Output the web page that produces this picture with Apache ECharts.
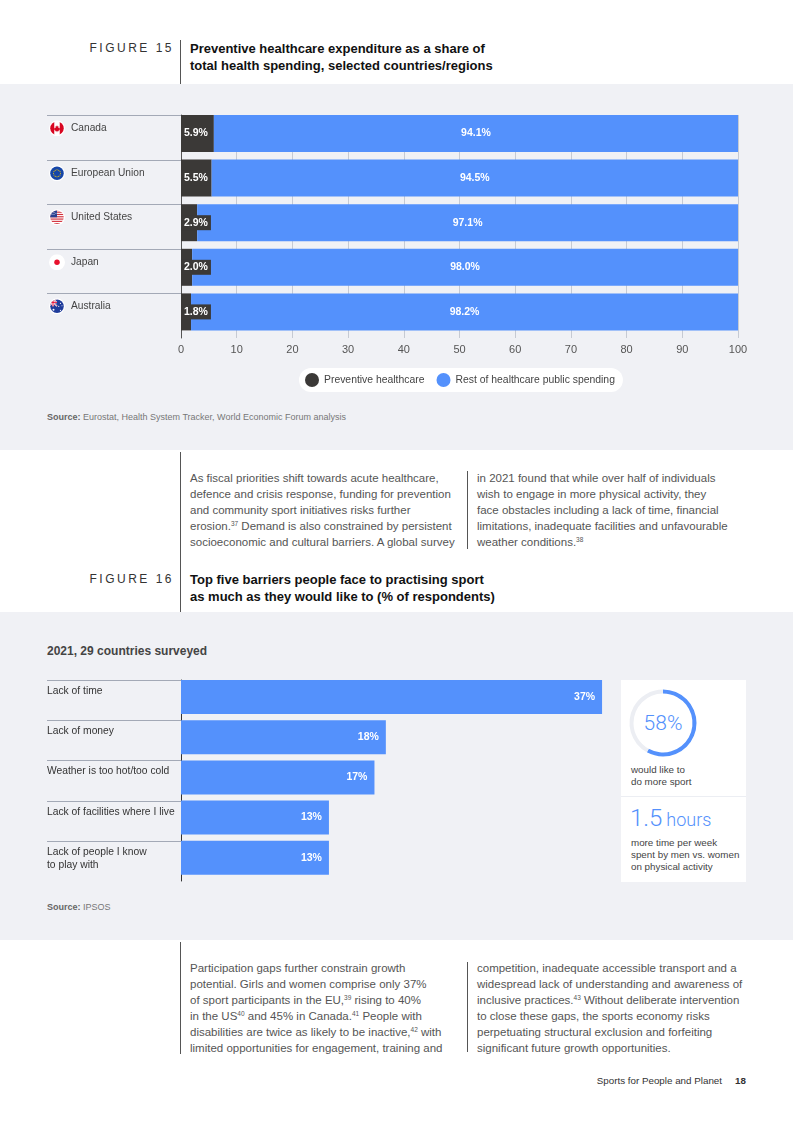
<!DOCTYPE html>
<html>
<head>
<meta charset="utf-8">
<script src="https://cdn.jsdelivr.net/npm/echarts@6/dist/echarts.min.js"></script>
<style>
html, body { margin: 0; padding: 0; width: 793px; height: 1121px; overflow: hidden; background: #fff;
  font-family: "Liberation Sans", Arial, sans-serif; }
.band { position: absolute; left: 0; width: 793px; background: #f0f1f5; }
.vline { position: absolute; width: 1px; background: #555; }
.fig { position: absolute; left: 40px; width: 134px; text-align: right; font-size: 12px; letter-spacing: 2.5px;
  color: #333; line-height: 17px; }
.ttl { position: absolute; left: 190px; font-size: 13px; font-weight: bold; color: #111; line-height: 17px; white-space: nowrap; }
.para { position: absolute; font-size: 11.5px; line-height: 16px; color: #555; white-space: nowrap; }
.src { position: absolute; left: 47px; font-size: 9px; line-height: 12px; color: #777; white-space: nowrap; }
.src b { color: #666; }
sup { font-size: 6.5px; vertical-align: baseline; position: relative; top: -4.5px; line-height: 0; }
.panel { position: absolute; left: 621px; top: 680px; width: 125px; height: 202px; background: #fff; }
.ptxt { position: absolute; left: 10px; font-size: 9.8px; line-height: 12.5px; color: #444; white-space: nowrap; }
#chart { position: absolute; left: 0; top: 0; width: 793px; height: 1121px; }
</style>
</head>
<body>
<div class="band" style="top:84px;height:366px"></div>
<div class="band" style="top:612px;height:328px"></div>

<div class="fig" style="top:39.5px">FIGURE 15</div>
<div class="vline" style="left:180px;top:40px;height:44px"></div>
<div class="ttl" style="top:39.5px">Preventive healthcare expenditure as a share of<br>total health spending, selected countries/regions</div>
<div class="src" style="top:411px"><b>Source:</b> Eurostat, Health System Tracker, World Economic Forum analysis</div>

<div class="vline" style="left:180px;top:452px;height:160px"></div>
<div class="vline" style="left:467px;top:471px;height:78px"></div>
<div class="para" style="left:190px;top:470px">As fiscal priorities shift towards acute healthcare,<br>defence and crisis response, funding for prevention<br>and community sport initiatives risks further<br>erosion.<sup>37</sup> Demand is also constrained by persistent<br>socioeconomic and cultural barriers. A global survey</div>
<div class="para" style="left:477px;top:470px">in 2021 found that while over half of individuals<br>wish to engage in more physical activity, they<br>face obstacles including a lack of time, financial<br>limitations, inadequate facilities and unfavourable<br>weather conditions.<sup>38</sup></div>

<div class="fig" style="top:570.5px">FIGURE 16</div>
<div class="ttl" style="top:570.5px">Top five barriers people face to practising sport<br>as much as they would like to (% of respondents)</div>

<div style="position:absolute;left:47px;top:642.5px;font-size:12px;line-height:16px;font-weight:bold;color:#444;white-space:nowrap">2021, 29 countries surveyed</div>
<div class="panel">
  <div id="gaugeText" style="position:absolute;left:0;top:31px;width:84px;text-align:center;font-family:Roboto,'Liberation Sans',sans-serif;font-weight:300;font-size:21px;line-height:24px;color:#5491fc"></div>
  <div class="ptxt" style="top:83.5px">would like to<br>do more sport</div>
  <div style="position:absolute;left:0;top:116px;width:125px;height:1px;background:#eceef3"></div>
  <div id="hoursText" style="position:absolute;left:9px;top:124px;font-family:Roboto,'Liberation Sans',sans-serif;font-weight:300;color:#5491fc;white-space:nowrap;line-height:28px"></div>
  <div class="ptxt" style="top:156.5px;line-height:12px">more time per week<br>spent by men vs. women<br>on physical activity</div>
</div>
<div class="src" style="top:901px"><b>Source:</b> IPSOS</div>

<div class="vline" style="left:180px;top:942px;height:112px"></div>
<div class="vline" style="left:467px;top:962px;height:90px"></div>
<div class="para" style="left:190px;top:960px">Participation gaps further constrain growth<br>potential. Girls and women comprise only 37%<br>of sport participants in the EU,<sup>39</sup> rising to 40%<br>in the US<sup>40</sup> and 45% in Canada.<sup>41</sup> People with<br>disabilities are twice as likely to be inactive,<sup>42</sup> with<br>limited opportunities for engagement, training and</div>
<div class="para" style="left:477px;top:960px">competition, inadequate accessible transport and a<br>widespread lack of understanding and awareness of<br>inclusive practices.<sup>43</sup> Without deliberate intervention<br>to close these gaps, the sports economy risks<br>perpetuating structural exclusion and forfeiting<br>significant future growth opportunities.</div>

<div style="position:absolute;left:500px;width:222px;top:1075px;text-align:right;font-size:9.8px;line-height:12px;color:#333">Sports for People and Planet</div>
<div style="position:absolute;left:735px;top:1075px;font-size:9.8px;line-height:12px;font-weight:bold;color:#333">18</div>

<div id="chart"></div>

<script>
// figure 15
var countries = ['Canada', 'European Union', 'United States', 'Japan', 'Australia'];
var preventive = [5.9, 5.5, 2.9, 2.0, 1.8];
var restOfSpending = [94.1, 94.5, 97.1, 98.0, 98.2];
var seriesNames = ['Preventive healthcare', 'Rest of healthcare public spending'];

// figure 16
var barriers = ['Lack of time', 'Lack of money', 'Weather is too hot/too cold',
  'Lack of facilities where I live', 'Lack of people I know\nto play with'];
var barrierShares = [37, 18, 17, 13, 13];
var wantMoreSport = 58;
var extraHours = 1.5;

var FONT = '"Liberation Sans", Arial, sans-serif';
var BLUE = '#5491fc';
var DARK = '#3b3937';

document.getElementById('gaugeText').textContent = wantMoreSport + '%';
document.getElementById('hoursText').innerHTML =
  '<span style="font-size:24px">' + extraHours + '</span> <span style="font-size:18px">hours</span>';

// round flag icons
function flagIcon(inner) {
  var svg = "<svg xmlns='http://www.w3.org/2000/svg' width='32' height='32' viewBox='0 0 32 32'>" +
    "<defs><clipPath id='k'><circle cx='16' cy='16' r='13.5'/></clipPath></defs>" +
    "<circle cx='16' cy='16' r='16' fill='#ffffff'/>" +
    "<g clip-path='url(#k)'>" + inner + "</g></svg>";
  return 'data:image/svg+xml;charset=utf-8,' + encodeURIComponent(svg);
}
var euStars = '';
for (var s = 0; s < 12; s++) {
  var a = s * Math.PI / 6;
  euStars += "<circle cx='" + (16 + 7 * Math.cos(a)).toFixed(2) + "' cy='" + (16 + 7 * Math.sin(a)).toFixed(2) + "' r='1.1' fill='#ffcc00'/>";
}
var usStripes = '';
for (var r = 0; r < 7; r++) {
  usStripes += "<rect x='0' y='" + (r * 4.6) + "' width='32' height='2.3' fill='#d22f3b'/>";
}
var flags = [
  flagIcon("<rect width='32' height='32' fill='#fff'/><rect width='10.5' height='32' fill='#d80621'/><rect x='21.5' width='10.5' height='32' fill='#d80621'/>" +
    "<path d='M16 10 L17.3 12.6 L19 12 L18.4 15.6 L20.2 14.6 L20.6 16 L22 15.8 L21.3 18.2 L22 18.8 L18.9 21 L19.2 22 L16.4 21.7 L16.4 23.8 L15.6 23.8 L15.6 21.7 L12.8 22 L13.1 21 L10 18.8 L10.7 18.2 L10 15.8 L11.4 16 L11.8 14.6 L13.6 15.6 L13 12 L14.7 12.6 Z' fill='#d80621'/>"),
  flagIcon("<rect width='32' height='32' fill='#1646a8'/>" + euStars),
  flagIcon("<rect width='32' height='32' fill='#fff'/>" + usStripes +
    "<rect width='16' height='16' fill='#2a3f8f'/><circle cx='6' cy='6' r='1' fill='#fff'/><circle cx='10' cy='6' r='1' fill='#fff'/><circle cx='6' cy='10' r='1' fill='#fff'/><circle cx='10' cy='10' r='1' fill='#fff'/><circle cx='14' cy='8' r='1' fill='#fff'/>"),
  flagIcon("<rect width='32' height='32' fill='#fff'/><circle cx='16' cy='16' r='5.5' fill='#e8112d'/>"),
  flagIcon("<rect width='32' height='32' fill='#1f3c9b'/>" +
    "<path d='M0 0 L16 16 M16 0 L0 16' stroke='#fff' stroke-width='3'/><path d='M0 0 L16 16 M16 0 L0 16' stroke='#e4002b' stroke-width='1'/>" +
    "<path d='M8 0 V16 M0 8 H16' stroke='#fff' stroke-width='4'/><path d='M8 0 V16 M0 8 H16' stroke='#e4002b' stroke-width='2'/>" +
    "<circle cx='9' cy='23' r='2' fill='#fff'/><circle cx='23' cy='10' r='1.2' fill='#fff'/><circle cx='19.5' cy='16' r='1.2' fill='#fff'/><circle cx='26' cy='15' r='1' fill='#fff'/><circle cx='23' cy='24' r='1.3' fill='#fff'/>")
];

// row separators + labels to the left of the category axis
function countryRows(params, api) {
  var i = api.value(1);
  var centre = api.coord([0, i]);
  var band = api.size([0, 1])[1];
  var top = Math.round(centre[1] - band / 2) + 0.5;
  var axisX = params.coordSys.x;
  return {
    type: 'group',
    children: [
      { type: 'line', shape: { x1: 47, y1: top, x2: axisX, y2: top }, style: { stroke: '#a3a9b6', lineWidth: 1 } },
      { type: 'image', style: { image: flags[i], x: 49, y: top + 4.8, width: 16, height: 16 } },
      { type: 'text', style: { text: countries[i], x: 71, y: top + 13, verticalAlign: 'middle',
          fill: '#444', fontSize: 10.2, fontFamily: FONT } }
    ]
  };
}
function barrierRows(params, api) {
  var i = api.value(1);
  var centre = api.coord([0, i]);
  var band = api.size([0, 1])[1];
  var top = Math.round(centre[1] - band / 2) + 0.5;
  var axisX = params.coordSys.x;
  return {
    type: 'group',
    children: [
      { type: 'line', shape: { x1: 47, y1: top, x2: axisX, y2: top }, style: { stroke: '#a3a9b6', lineWidth: 1 } },
      { type: 'text', style: { text: barriers[i], x: 47, y: top + 4, verticalAlign: 'top', lineHeight: 13,
          fill: '#333', fontSize: 10.3, fontFamily: FONT } }
    ]
  };
}

var chart = echarts.init(document.getElementById('chart'), null, { renderer: 'canvas' });

var option = {
  animation: false,
  textStyle: { fontFamily: FONT },
  grid: [
    { left: 181, top: 115, width: 557, height: 223 },
    { left: 181, top: 680, width: 455.2, height: 201 }
  ],
  xAxis: [
    { gridIndex: 0, type: 'value', min: 0, max: 100, interval: 10,
      axisLine: { show: false }, axisTick: { show: false },
      splitLine: { lineStyle: { color: '#c6cad3' } },
      axisLabel: { color: '#555', fontSize: 11, margin: 6 } },
    { gridIndex: 1, type: 'value', min: 0, max: 40, show: false }
  ],
  yAxis: [
    { gridIndex: 0, type: 'category', data: countries, inverse: true,
      axisLine: { lineStyle: { color: '#555' } }, axisTick: { show: false }, axisLabel: { show: false } },
    { gridIndex: 1, type: 'category', data: barriers, inverse: true,
      axisLine: { lineStyle: { color: '#333' } }, axisTick: { show: false }, axisLabel: { show: false } }
  ],
  legend: {
    data: seriesNames,
    left: 299, top: 368,
    icon: 'circle', itemWidth: 14, itemHeight: 14, itemGap: 12,
    padding: [5, 8, 5, 6],
    backgroundColor: '#fff', borderRadius: 12,
    textStyle: { color: '#444', fontSize: 10.4 },
    selectedMode: false
  },
  series: [
    { name: seriesNames[0], type: 'bar', xAxisIndex: 0, yAxisIndex: 0, stack: 'share',
      data: preventive, barWidth: 37, barGap: '0%', itemStyle: { color: DARK },
      label: { show: true, position: 'insideLeft', distance: 0, color: '#fff', fontWeight: 'bold', fontSize: 10.5,
        backgroundColor: DARK, padding: [2, 3, 2, 3],
        formatter: function (p) { return p.value.toFixed(1) + '%'; } } },
    { name: seriesNames[1], type: 'bar', xAxisIndex: 0, yAxisIndex: 0, stack: 'share',
      data: restOfSpending, barWidth: 37, barGap: '0%', itemStyle: { color: BLUE },
      label: { show: true, position: 'inside', color: '#fff', fontWeight: 'bold', fontSize: 10.5,
        formatter: function (p) { return p.value.toFixed(1) + '%'; } } },
    { type: 'bar', xAxisIndex: 0, yAxisIndex: 0, stack: 'pad', silent: true,
      data: countries.map(function () { return 0; }), barWidth: 7.6, barGap: '0%',
      itemStyle: { color: 'rgba(0,0,0,0)' } },
    { type: 'custom', xAxisIndex: 0, yAxisIndex: 0, silent: true, renderItem: countryRows,
      data: countries.map(function (c, i) { return [0, i]; }), encode: { x: 0, y: 1 } },

    { type: 'bar', xAxisIndex: 1, yAxisIndex: 1, stack: 'barriers', data: barrierShares,
      barWidth: 34, barGap: '0%', itemStyle: { color: BLUE },
      label: { show: true, position: 'insideRight', distance: 7, color: '#fff', fontWeight: 'bold', fontSize: 10.5,
        formatter: '{c}%' } },
    { type: 'bar', xAxisIndex: 1, yAxisIndex: 1, stack: 'pad2', silent: true,
      data: barriers.map(function () { return 0; }), barWidth: 6.2, barGap: '0%',
      itemStyle: { color: 'rgba(0,0,0,0)' } },
    { type: 'custom', xAxisIndex: 1, yAxisIndex: 1, silent: true, renderItem: barrierRows,
      data: barriers.map(function (c, i) { return [0, i]; }), encode: { x: 0, y: 1 } },

    { type: 'pie', silent: true, center: [663, 723], radius: [29.5, 33.5], startAngle: 90, clockwise: true,
      label: { show: false }, labelLine: { show: false }, emphasis: { disabled: true },
      data: [
        { value: wantMoreSport, itemStyle: { color: BLUE } },
        { value: 100 - wantMoreSport, itemStyle: { color: '#eceef3' } }
      ] }
  ]
};
chart.setOption(option);
</script>
</body>
</html>
